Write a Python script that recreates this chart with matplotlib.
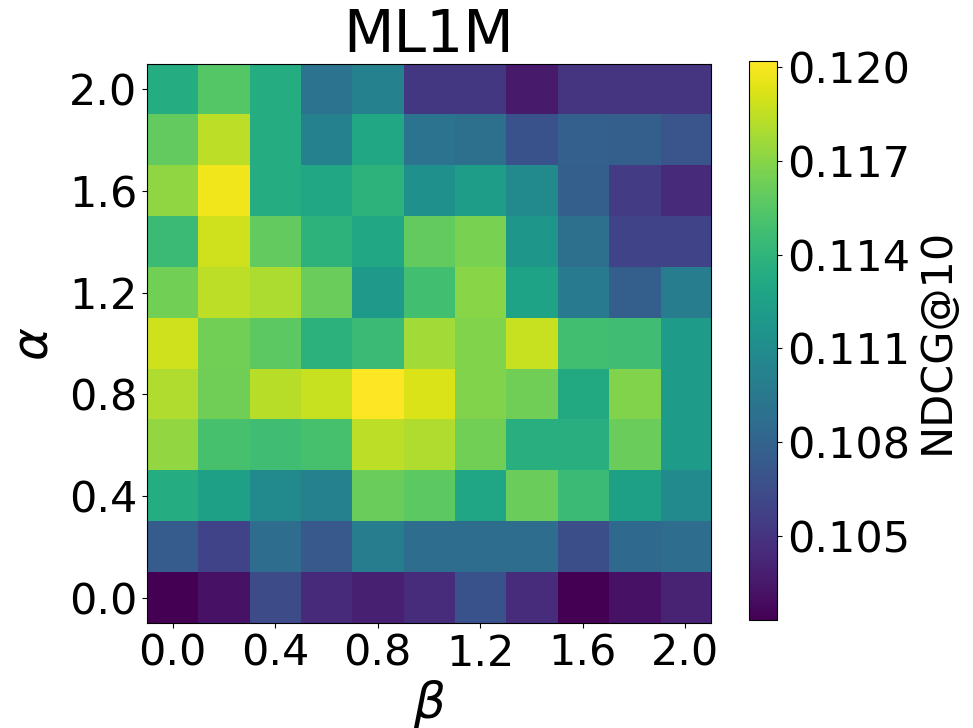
import numpy as np
import matplotlib
matplotlib.use("Agg")
import matplotlib.pyplot as plt

alphas = [0.0, 0.2, 0.4, 0.6, 0.8, 1.0, 1.2, 1.4, 1.6, 1.8, 2.0]
betas = [0.0, 0.2, 0.4, 0.6, 0.8, 1.0, 1.2, 1.4, 1.6, 1.8, 2.0]

# NDCG@10, rows = alpha (0.0 .. 2.0), cols = beta (0.0 .. 2.0)
ndcg_a00 = [0.1023, 0.1032, 0.1064, 0.1044, 0.1039, 0.1046, 0.1068, 0.1046, 0.1023, 0.1032, 0.1041]
ndcg_a02 = [0.1075, 0.1059, 0.1087, 0.1073, 0.1098, 0.1087, 0.1087, 0.1087, 0.1066, 0.1084, 0.1087]
ndcg_a04 = [0.1134, 0.1125, 0.1109, 0.1102, 0.1161, 0.1157, 0.1129, 0.1161, 0.1145, 0.1125, 0.1109]
ndcg_a06 = [0.1173, 0.1150, 0.1147, 0.1150, 0.1184, 0.1181, 0.1164, 0.1136, 0.1136, 0.1161, 0.1121]
ndcg_a08 = [0.1181, 0.1163, 0.1183, 0.1187, 0.1202, 0.1192, 0.1168, 0.1163, 0.1132, 0.1168, 0.1121]
ndcg_a10 = [0.1189, 0.1164, 0.1157, 0.1138, 0.1145, 0.1177, 0.1168, 0.1187, 0.1148, 0.1147, 0.1121]
ndcg_a12 = [0.1164, 0.1184, 0.1180, 0.1161, 0.1120, 0.1148, 0.1170, 0.1127, 0.1096, 0.1077, 0.1098]
ndcg_a14 = [0.1145, 0.1189, 0.1159, 0.1139, 0.1130, 0.1159, 0.1166, 0.1118, 0.1089, 0.1059, 0.1059]
ndcg_a16 = [0.1172, 0.1198, 0.1134, 0.1130, 0.1139, 0.1113, 0.1123, 0.1109, 0.1077, 0.1055, 0.1044]
ndcg_a18 = [0.1159, 0.1184, 0.1134, 0.1102, 0.1130, 0.1091, 0.1089, 0.1068, 0.1078, 0.1077, 0.1070]
ndcg_a20 = [0.1134, 0.1155, 0.1134, 0.1091, 0.1102, 0.1052, 0.1052, 0.1036, 0.1050, 0.1050, 0.1050]

tick_vals = [0.0, 0.4, 0.8, 1.2, 1.6, 2.0]
tick_labels = ["0.0", "0.4", "0.8", "1.2", "1.6", "2.0"]
cbar_ticks = [0.105, 0.108, 0.111, 0.114, 0.117, 0.120]
cbar_labels = ["0.105", "0.108", "0.111", "0.114", "0.117", "0.120"]

grid = np.array([ndcg_a00, ndcg_a02, ndcg_a04, ndcg_a06, ndcg_a08, ndcg_a10,
                 ndcg_a12, ndcg_a14, ndcg_a16, ndcg_a18, ndcg_a20])

fig = plt.figure(figsize=(9.73, 7.28), dpi=100)
ax = fig.add_axes([0.151, 0.1442, 0.5797, 0.768])
cax = fig.add_axes([0.7698, 0.1484, 0.0288, 0.768])

step = betas[1] - betas[0]
im = ax.imshow(grid, cmap="viridis", origin="lower", aspect="auto",
               interpolation="nearest",
               extent=[betas[0] - step / 2, betas[-1] + step / 2,
                       alphas[0] - step / 2, alphas[-1] + step / 2])

ax.set_xticks(tick_vals)
ax.set_xticklabels(tick_labels)
ax.set_yticks(tick_vals)
ax.set_yticklabels(tick_labels)
ax.tick_params(labelsize=31)
ax.set_title("ML1M", fontsize=42, pad=8)
ax.set_xlabel(r"$\beta$", fontsize=36, labelpad=2)
ax.set_ylabel(r"$\alpha$", fontsize=36, labelpad=8)

cb = fig.colorbar(im, cax=cax)
cb.set_ticks(cbar_ticks)
cb.set_ticklabels(cbar_labels)
cb.ax.tick_params(labelsize=31)
cb.set_label("NDCG@10", fontsize=31, labelpad=4)

fig.savefig("out.png", dpi=100)
